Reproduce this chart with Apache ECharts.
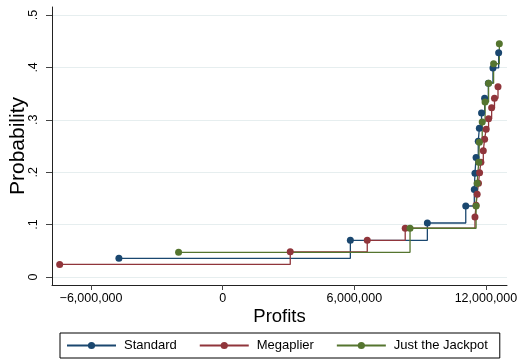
<!DOCTYPE html>
<html>
<head>
<meta charset="utf-8">
<script src="https://cdn.jsdelivr.net/npm/echarts@6/dist/echarts.min.js"></script>
<style>
  html, body { margin: 0; padding: 0; background: #fff; }
  #chart { width: 521px; height: 362px; }
</style>
</head>
<body>
<div id="chart"></div>
<script>
// Profit outcomes (dollars) and cumulative probability for each ticket type
const standardProfit = [-4730000, 5820000, 9330000, 11080000, 11470000, 11500000, 11550000,
                        11650000, 11700000, 11800000, 11940000, 12110000, 12320000, 12580000];
const standardProb   = [0.0357, 0.070, 0.103, 0.1355, 0.167, 0.198, 0.228,
                        0.259, 0.284, 0.313, 0.341, 0.370, 0.399, 0.428];

const megaplierProfit = [-7430000, 3080000, 6590000, 8320000, 11500000, 11550000, 11600000,
                         11660000, 11710000, 11770000, 11880000, 11940000, 12010000, 12120000,
                         12260000, 12390000, 12550000];
const megaplierProb   = [0.024, 0.048, 0.070, 0.093, 0.1145, 0.137, 0.158,
                         0.179, 0.199, 0.219, 0.241, 0.263, 0.282, 0.302,
                         0.323, 0.341, 0.363];

const jackpotProfit = [-2010000, 8540000, 11550000, 11600000, 11670000, 11700000,
                       11830000, 11960000, 12120000, 12350000, 12610000];
const jackpotProb   = [0.047, 0.093, 0.1355, 0.179, 0.219, 0.257,
                       0.296, 0.334, 0.370, 0.407, 0.445];

const seriesNames = ['Standard', 'Megaplier', 'Just the Jackpot'];
const seriesColors = ['#1a476f', '#90353b', '#55752f'];

const xTicks = [-6000000, 0, 6000000, 12000000];
const xTickLabels = ['\u22126,000,000', '0', '6,000,000', '12,000,000'];
const yTicks = [0, 0.1, 0.2, 0.3, 0.4, 0.5];
const yTickLabels = ['0', '.1', '.2', '.3', '.4', '.5'];

const FONT = "'Liberation Sans', Arial, sans-serif";

function pairs(xs, ys) {
  return xs.map((x, i) => [x, ys[i]]);
}

function stepSeries(name, color, xs, ys) {
  return {
    name: name,
    type: 'line',
    step: 'end',
    data: pairs(xs, ys),
    symbol: 'circle',
    symbolSize: 7,
    showSymbol: true,
    showAllSymbol: true,
    lineStyle: { color: color, width: 1.3 },
    itemStyle: { color: color },
    emphasis: { disabled: true },
    animation: false
  };
}

const chart = echarts.init(document.getElementById('chart'), null, { renderer: 'canvas' });

chart.setOption({
  backgroundColor: '#ffffff',
  animation: false,
  color: seriesColors,
  grid: { left: 52, right: 14, top: 7, bottom: 77, containLabel: false, outerBoundsMode: 'none' },
  xAxis: {
    type: 'value',
    min: -7780000,
    max: 12960000,
    name: 'Profits',
    nameLocation: 'middle',
    nameGap: 22,
    nameMoveOverlap: false,
    nameTextStyle: { fontFamily: FONT, fontSize: 18.5, color: '#000', verticalAlign: 'top' },
    axisLine: { show: true, onZero: false, lineStyle: { color: '#222', width: 1 } },
    axisTick: { show: true, length: 5, lineStyle: { color: '#444' }, customValues: xTicks },
    axisLabel: {
      show: true,
      customValues: xTicks,
      margin: 7,
      fontFamily: FONT,
      fontSize: 12.5,
      color: '#000',
      formatter: v => xTickLabels[xTicks.indexOf(v)]
    },
    splitLine: { show: false }
  },
  yAxis: {
    type: 'value',
    min: -0.0153,
    max: 0.5153,
    name: 'Probability',
    nameLocation: 'middle',
    nameGap: 23,
    nameMoveOverlap: false,
    nameTextStyle: { fontFamily: FONT, fontSize: 21, color: '#000' },
    axisLine: { show: true, onZero: false, lineStyle: { color: '#222', width: 1 } },
    axisTick: { show: true, length: 6, lineStyle: { color: '#444' }, customValues: yTicks },
    axisLabel: {
      show: true,
      customValues: yTicks,
      rotate: 90,
      margin: 12,
      fontFamily: FONT,
      fontSize: 12.5,
      color: '#000',
      formatter: v => yTickLabels[yTicks.indexOf(v)]
    },
    splitLine: { show: true, lineStyle: { color: '#e6eeef', width: 1 } }
  },
  legend: {
    left: 60,
    top: 333,
    orient: 'horizontal',
    data: seriesNames,
    itemWidth: 49,
    itemHeight: 9,
    itemGap: 22,
    padding: [6, 12, 6, 6],
    borderColor: '#000',
    borderWidth: 1,
    borderRadius: 0,
    selectedMode: false,
    textStyle: { fontFamily: FONT, fontSize: 13, color: '#000', padding: [0, 0, 0, 3] }
  },
  series: [
    stepSeries(seriesNames[0], seriesColors[0], standardProfit, standardProb),
    stepSeries(seriesNames[1], seriesColors[1], megaplierProfit, megaplierProb),
    stepSeries(seriesNames[2], seriesColors[2], jackpotProfit, jackpotProb)
  ]
});
</script>
</body>
</html>
